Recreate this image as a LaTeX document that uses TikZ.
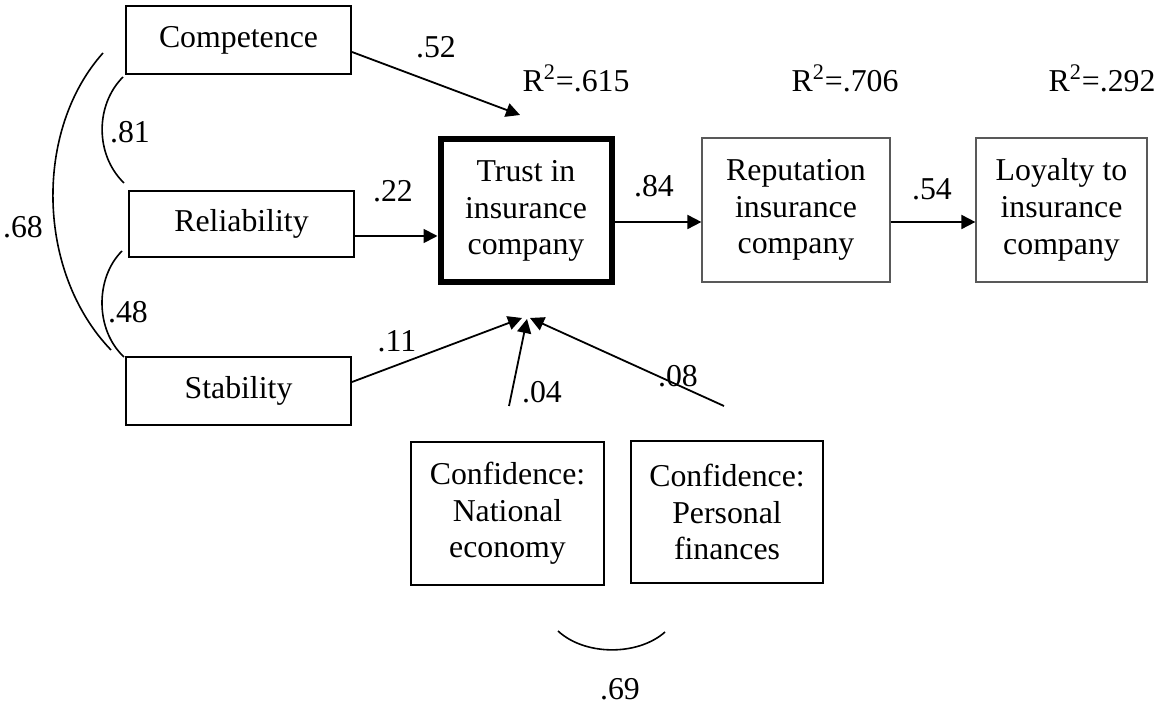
\documentclass[tikz,border=0pt]{standalone}
\usepackage{fontspec}
\setmainfont{Liberation Serif}
\usetikzlibrary{arrows.meta}
\begin{document}
\begin{tikzpicture}[x=0.5pt,y=-0.5pt,
  every node/.style={font=\fontsize{15.9}{18.3}\selectfont},
  box/.style={draw, line width=1pt, inner sep=0pt, align=center},
  lbl/.style={anchor=base, inner sep=0pt},
  arr/.style={-{Triangle[length=7pt,width=7pt]}, line width=0.9pt},
  corr/.style={line width=0.8pt}]
\useasboundingbox (0,0) rectangle (1156,704);
% boxes
\node[box, minimum width=112.5pt, minimum height=34pt] (comp) at (238.5,40) {Competence};
\node[box, minimum width=112.5pt, minimum height=33pt] (rel) at (241.5,224) {Reliability};
\node[box, minimum width=112.5pt, minimum height=34pt] (stab) at (238.5,391) {Stability};
\node[box, line width=3pt, minimum width=85.5pt, minimum height=71.5pt] (trust) at (526,211) {Trust in\\insurance\\company};
\node[box, draw=black!65, line width=0.6pt, minimum width=94pt, minimum height=72pt] (rep) at (796,210) {Reputation\\insurance\\company};
\node[box, draw=black!65, line width=0.6pt, minimum width=85.5pt, minimum height=72pt] (loy) at (1061.5,210) {Loyalty to\\insurance\\company};
\node[box, minimum width=96.5pt, minimum height=71.5pt] (nat) at (507.5,513.5) {Confidence:\\National\\economy};
\node[box, minimum width=96pt, minimum height=71pt] (pers) at (727,512) {Confidence:\\Personal\\finances};
% free ends
\coordinate (compEnd) at (520,115);
\coordinate (t1) at (522,318);
\coordinate (t2) at (527,319);
\coordinate (t3) at (530,318);
\coordinate (natTop) at (509,406);
\coordinate (persTop) at (724,406);
% paths
\draw[arr] (comp.east |- 0,52) -- (compEnd);
\draw[arr] (rel.east |- 0,236) -- (trust.west |- 0,236);
\draw[arr] (trust.east |- 0,222) -- (rep.west |- 0,222);
\draw[arr] (rep.east |- 0,222) -- (loy.west |- 0,222);
\draw[arr] (stab.east |- 0,382) -- (t1);
\draw[arr] (natTop) -- (t2);
\draw[arr] (persTop) -- (t3);
% correlation arcs
\coordinate (a81s) at (123,77);
\coordinate (a81e) at (124,183);
\coordinate (a68s) at (103,53);
\coordinate (a68e) at (111,350);
\coordinate (a48s) at (122,251);
\coordinate (a48e) at (124,357);
\coordinate (a69s) at (558,631);
\coordinate (a69e) at (665,632);
\draw[corr] (a81s) .. controls (95,105) and (95,155) .. (a81e);
\draw[corr] (a68s) .. controls (34,130) and (36,272) .. (a68e);
\draw[corr] (a48s) .. controls (95,278) and (95,330) .. (a48e);
\draw[corr] (a69s) .. controls (585,656) and (638,656) .. (a69e);
% labels
\node[lbl] (l52) at (436,58) {.52};
\node[lbl] (r1) at (576,92) {R\textsuperscript{2}=.615};
\node[lbl] (r2) at (845,92) {R\textsuperscript{2}=.706};
\node[lbl] (r3) at (1102,92) {R\textsuperscript{2}=.292};
\node[lbl] (l81) at (130,143) {.81};
\node[lbl] (l22) at (393,202) {.22};
\node[lbl] (l68) at (23,238) {.68};
\node[lbl] (l48) at (128,323) {.48};
\node[lbl] (l11) at (397,352) {.11};
\node[lbl] (l84) at (654,197) {.84};
\node[lbl] (l54) at (932,200) {.54};
\node[lbl] (l04) at (542,403) {.04};
\node[lbl] (l08) at (678,387) {.08};
\node[lbl] (l69) at (620,700) {.69};
\end{tikzpicture}
\end{document}
